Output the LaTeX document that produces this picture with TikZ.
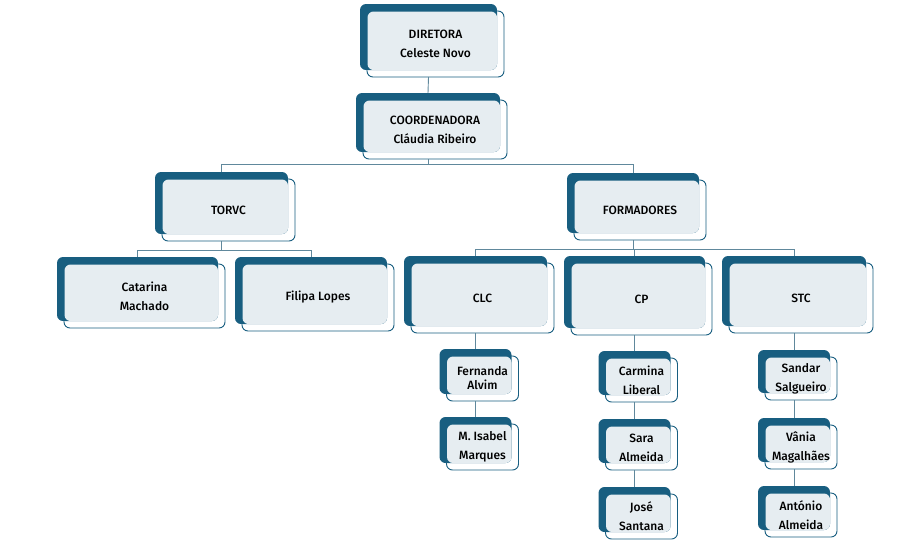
\documentclass[tikz,border=0pt]{standalone}
\usepackage{fontspec}
\setmainfont{Fira Sans Medium}
\usepackage{tikz}
\usetikzlibrary{positioning,calc}

\definecolor{unitdark}{RGB}{24,94,128}
\definecolor{unitlight}{RGB}{230,237,241}
\definecolor{linkcol}{RGB}{96,136,156}

\tikzset{
  unitout/.style={draw=unitdark, fill=white, line width=0.9pt, rounded corners=6pt},
  unitback/.style={fill=unitdark, rounded corners=6pt},
  unitfill/.style={fill=unitlight, rounded corners=6pt},
  unittext/.style={align=center, text=black, font=\fontsize{12}{19}\selectfont, inner sep=0pt},
  link/.style={draw=linkcol, line width=0.9pt}
}

% name, x, y (top left of dark box), width, height, text
\newcommand{\orgunit}[6]{%
  \path[unitout] (#2+7, #3+7) rectangle (#2+#4+7, #3+#5+7);
  \path[unitback] (#2, #3) rectangle (#2+#4, #3+#5);
  \path[unitfill] (#2+7.5, #3+7.5) rectangle (#2+#4, #3+#5);
  \coordinate (#1-top) at (#2+#4/2, #3);
  \coordinate (#1-bot) at (#2+#4/2, #3+#5+7);
  \node[unittext] (#1) at (#2+7+#4/2, #3+7+#5/2) {#6};
}

\begin{document}
\begin{tikzpicture}[x=1pt, y=-1pt]
  \useasboundingbox (0,0) rectangle (898,558);

  % top
  \orgunit{dir}{360}{4}{137}{66}{DIRETORA\\Celeste Novo}
  \orgunit{coord}{356}{93}{144}{59}{COORDENADORA\\Cláudia Ribeiro}

  % second level
  \orgunit{torvc}{155}{172}{133}{62}{TORVC}
  \orgunit{form}{567}{173}{132}{60}{FORMADORES}

  % third level
  \orgunit{catarina}{57}{257}{161}{64}{Catarina\\Machado}
  \orgunit{filipa}{235}{257}{152}{67}{Filipa Lopes}
  \orgunit{clc}{404}{256}{143}{70}{CLC}
  \orgunit{cp}{564}{256}{141}{72}{CP}
  \orgunit{stc}{722}{256}{144}{70}{STC}

  % formadores
  \orgunit{fernanda}{439.5}{349}{72}{45}{Fernanda\\[-5pt]Alvim}
  \orgunit{isabel}{439.5}{417}{72}{46}{M. Isabel\\Marques}
  \orgunit{carmina}{598.5}{351}{72}{44}{Carmina\\Liberal}
  \orgunit{sara}{598.5}{419}{72}{44}{Sara\\Almeida}
  \orgunit{jose}{598.5}{487}{72}{45}{José\\Santana}
  \orgunit{sandar}{758}{350}{72}{43}{Sandar\\Salgueiro}
  \orgunit{vania}{758}{418}{72}{44}{Vânia\\Magalhães}
  \orgunit{antonio}{758}{486}{72}{44}{António\\Almeida}

  % connectors
  \coordinate (bar-top) at (428,164);
  \coordinate (bar-torvc) at (221.5,250);
  \coordinate (bar-form) at (633,249);

  \draw[link] (dir-bot) -- (coord-top);
  \draw[link] (coord-bot) -- (bar-top) -| (torvc-top);
  \draw[link] (bar-top) -| (form-top);
  \draw[link] (torvc-bot) -- (bar-torvc) -| (catarina-top);
  \draw[link] (bar-torvc) -| (filipa-top);
  \draw[link] (form-bot) -- (bar-form) -| (clc-top);
  \draw[link] (bar-form) -| (cp-top);
  \draw[link] (bar-form) -| (stc-top);

  \draw[link] (clc-bot) -- (fernanda-top);
  \draw[link] (fernanda-bot) -- (isabel-top);
  \draw[link] (cp-bot) -- (carmina-top);
  \draw[link] (carmina-bot) -- (sara-top);
  \draw[link] (sara-bot) -- (jose-top);
  \draw[link] (stc-bot) -- (sandar-top);
  \draw[link] (sandar-bot) -- (vania-top);
  \draw[link] (vania-bot) -- (antonio-top);
\end{tikzpicture}
\end{document}
